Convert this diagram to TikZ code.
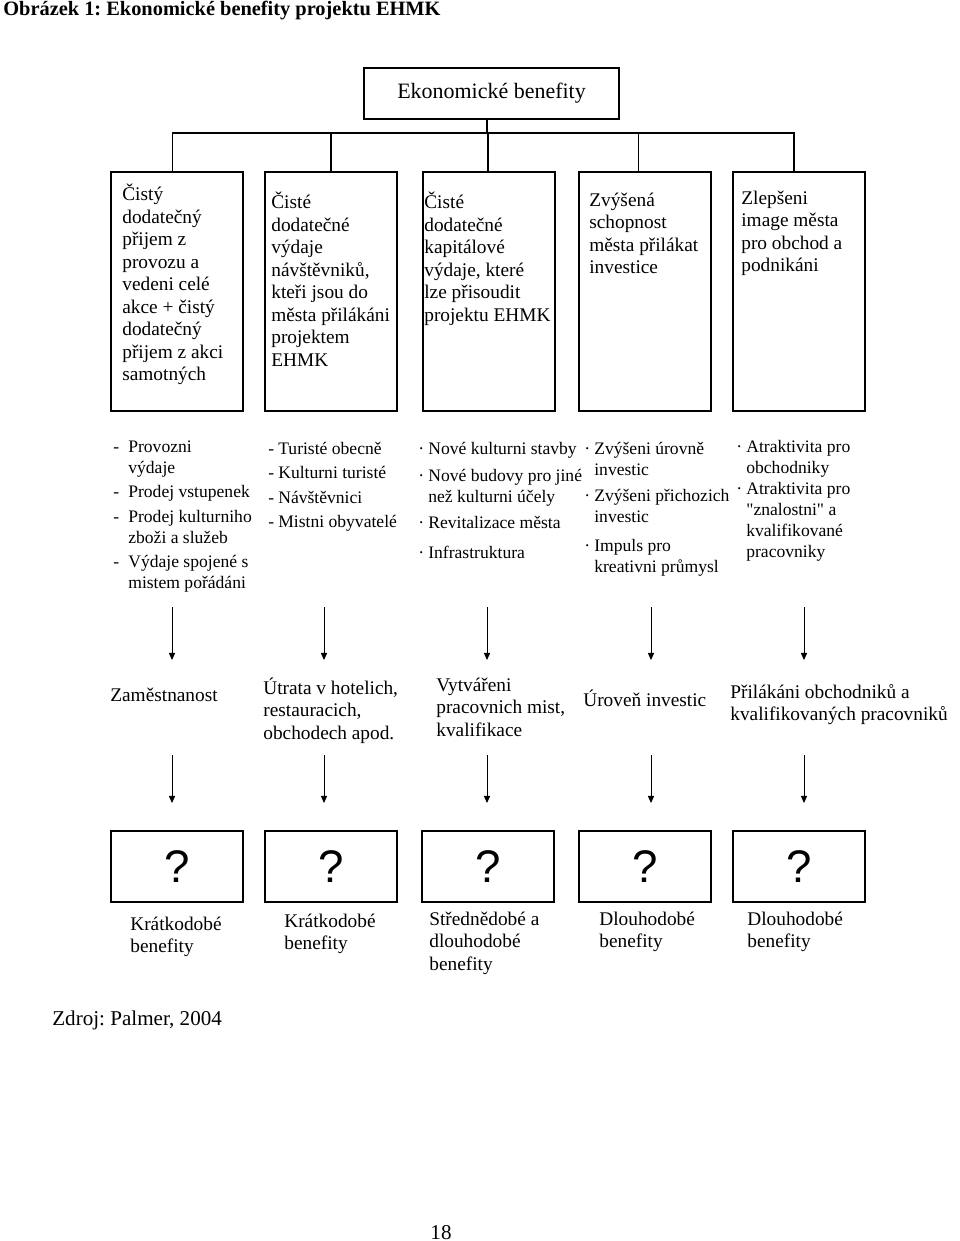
\documentclass[tikz,border=0pt]{standalone}
\usepackage{fontspec}
\setmainfont{Liberation Serif}
\newfontfamily\qmarkfont{Liberation Sans}
\newfontfamily\rawquote{Liberation Serif}
\usetikzlibrary{positioning,arrows.meta}
\frenchspacing
\newcommand\itemmark[2][0.2cm]{\makebox[#1][l]{#2}}
\newcommand\contline[1][0.2cm]{\hspace*{#1}}
\tikzset{
  treeline/.style={line width=0.8pt},
  topbox/.style={draw,line width=0.9pt,minimum width=5.1cm,minimum height=1.02cm,
    font=\fontsize{12.5}{15}\selectfont},
  bigbox/.style={draw,line width=1.1pt,anchor=north west,minimum width=2.64cm,minimum height=4.78cm},
  qbox/.style={draw,line width=0.9pt,anchor=north west,minimum width=2.64cm,minimum height=1.42cm,
    font=\qmarkfont\fontsize{26}{26}\selectfont},
  % base west = baseline of the last line
  boxtext/.style={anchor=base west,inner sep=0pt,align=left,font=\fontsize{11}{12.8}\selectfont},
  listtext/.style={anchor=base west,inner sep=0pt,align=left,font=\fontsize{10}{11.9}\selectfont},
  arr/.style={line width=0.5pt,-{Triangle[length=4pt,width=3.5pt]}},
}

\begin{document}
\begin{tikzpicture}[x=0.02cm,y=-0.02cm]
    \useasboundingbox (0,0) rectangle (960,1241);
    \node[anchor=base west,inner sep=0pt,font=\bfseries\fontsize{11.6}{14}\selectfont] (title) at (3,15)
        {Obrázek 1: Ekonomické benefity projektu EHMK};

    % top level and the five groups
    \node[topbox] (top) at (491.5,93.5) {Ekonomické benefity};
    \node[bigbox] (b1) at (110,171) {};
    \node[bigbox] (b2) at (264,171) {};
    \node[bigbox] (b3) at (422,171) {};
    \node[bigbox] (b4) at (578,171) {};
    \node[bigbox] (b5) at (732,171) {};
    \coordinate (bar) at (487,133);
    \draw[treeline] (top.south -| bar) -- (bar);
    \foreach \b/\d in {b1/-4.5,b2/0,b3/-1,b4/-6.5,b5/-5}
        \draw[treeline] (bar) -| ([xshift=\d*0.02cm]\b.north);

    \node[boxtext] (t1) at (122,380.6) {Čistý\\dodatečný\\přijem z\\provozu a\\vedeni celé\\akce + čistý\\dodatečný\\přijem z akci\\samotných};
    \node[boxtext] (t2) at (271,366) {Čisté\\dodatečné\\výdaje\\návštěvniků,\\kteři jsou do\\města přilákáni\\projektem\\EHMK};
    \node[boxtext] (t3) at (424,321) {Čisté\\dodatečné\\kapitálové\\výdaje, které\\lze přisoudit\\projektu EHMK};
    \node[boxtext] (t4) at (589,273.7) {Zvýšená\\schopnost\\města přilákat\\investice};
    \node[boxtext] (t5) at (741,271.7) {Zlepšeni\\image města\\pro obchod a\\podnikáni};

    % lists
    \node[listtext] (s1) at (113,588.5) {\itemmark[0.3cm]{-}Provozni\\\contline[0.3cm]výdaje\\[2pt]
        \itemmark[0.3cm]{-}Prodej vstupenek\\[2pt]\itemmark[0.3cm]{-}Prodej kulturniho\\\contline[0.3cm]zboži a služeb\\[2pt]
        \itemmark[0.3cm]{-}Výdaje spojené s\\\contline[0.3cm]mistem pořádáni};
    \node[listtext] (s2) at (268,527.5) {\itemmark{-}Turisté obecně\\[2pt]\itemmark{-}Kulturni turisté\\[2pt]
        \itemmark{-}Návštěvnici\\[2pt]\itemmark{-}Mistni obyvatelé};
    \node[listtext] (s3) at (418,558.4) {\itemmark{·}Nové kulturni stavby\\[3.3pt]\itemmark{·}Nové budovy pro jiné\\\contline než kulturni účely\\[3.3pt]
        \itemmark{·}Revitalizace města\\[5pt]\itemmark{·}Infrastruktura};
    \node[listtext] (s4) at (584,572.6) {\itemmark{·}Zvýšeni úrovně\\\contline investic\\[2.7pt]\itemmark{·}Zvýšeni přichozich\\\contline investic\\[5pt]
        \itemmark{·}Impuls pro\\\contline kreativni průmysl};
    \node[listtext] (s5) at (736,557) {\itemmark{·}Atraktivita pro\\\contline obchodniky\\\itemmark{·}Atraktivita pro\\\contline {\rawquote"}znalostni{\rawquote"} a\\
        \contline kvalifikované\\\contline pracovniky};

    % effects
    \node[boxtext] (m1) at (110,701) {Zaměstnanost};
    \node[boxtext] (m2) at (263,739.2) {Útrata v hotelich,\\restauracich,\\obchodech apod.};
    \node[boxtext] (m3) at (436,736.2) {Vytvářeni\\pracovnich mist,\\kvalifikace};
    \node[boxtext] (m4) at (583,706) {Úroveň investic};
    \node[boxtext] (m5) at (730,720.6) {Přilákáni obchodniků a\\kvalifikovaných pracovniků};

    \foreach \x [count=\i] in {172,324,487,651,804} {
        \coordinate (u\i) at (\x,607);
        \coordinate (v\i) at (\x,660);
        \coordinate (w\i) at (\x,755);
        \coordinate (z\i) at (\x,803);
        \draw[arr] (u\i) -- (v\i);
        \draw[arr] (w\i) -- (z\i);
    }

    % results
    \node[qbox] (q1) at (110,830) {?};
    \node[qbox] (q2) at (264,830) {?};
    \node[qbox] (q3) at (421,830) {?};
    \node[qbox] (q4) at (578,830) {?};
    \node[qbox] (q5) at (732,830) {?};
    \node[boxtext] (l1) at (130,952.6) {Krátkodobé\\benefity};
    \node[boxtext] (l2) at (284,949.6) {Krátkodobé\\benefity};
    \node[boxtext] (l3) at (429,970.2) {Střednědobé a\\dlouhodobé\\benefity};
    \node[boxtext] (l4) at (599,947.6) {Dlouhodobé\\benefity};
    \node[boxtext] (l5) at (747,947.6) {Dlouhodobé\\benefity};

    \node[anchor=base west,inner sep=0pt,font=\fontsize{12}{14}\selectfont] (src) at (52,1025) {Zdroj: Palmer, 2004};
    \node[anchor=base,inner sep=0pt,font=\fontsize{12}{14}\selectfont] (page) at (441,1239) {18};
\end{tikzpicture}
\end{document}
